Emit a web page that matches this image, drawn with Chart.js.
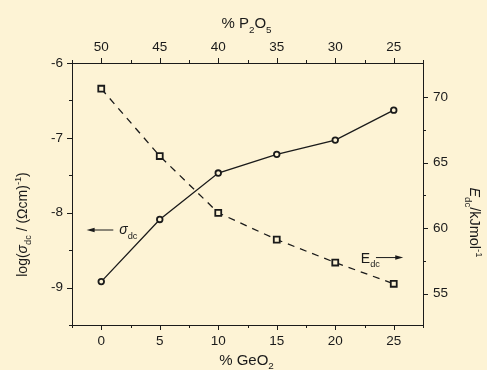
<!DOCTYPE html>
<html>
<head>
<meta charset="utf-8">
<script src="https://cdn.jsdelivr.net/npm/chart.js@4/dist/chart.umd.min.js"></script>
<style>
  html, body { margin: 0; padding: 0; background: #fdf3d5; }
  #wrap { width: 487px; height: 370px; }
</style>
</head>
<body>
<div id="wrap"><canvas id="c" width="487" height="370"></canvas></div>
<script>
// GeO2 content (mol %) of the glasses; P2O5 content is 50 - GeO2
const geo2 = [0, 5, 10, 15, 20, 25];
// dc conductivity, log(sigma_dc / (Ohm cm)^-1)
const logSigma = [-8.92, -8.09, -7.47, -7.22, -7.03, -6.63];
// activation energy E_dc, kJ/mol
const eDc = [70.63, 65.5, 61.17, 59.13, 57.38, 55.76];

const BG = '#fdf3d5';
const INK = '#1a1a1a';
const FONT = "'Liberation Sans', Arial, sans-serif";

const near = (v, step) => Math.abs(v / step - Math.round(v / step)) < 1e-6;

// Draws a run of text pieces (normal / italic / sub / sup) starting or centred at x
function rich(ctx, parts, x, y, size, align) {
  const fontFor = p => {
    const small = p.f === 'sub' || p.f === 'sup';
    const s = small ? size * 0.66 : size;
    return (p.f === 'i' ? 'italic ' : '') + s + 'px ' + FONT;
  };
  let total = 0;
  const widths = parts.map(p => { ctx.font = fontFor(p); const w = ctx.measureText(p.t).width; total += w; return w; });
  let cx = align === 'center' ? x - total / 2 : x;
  ctx.textAlign = 'left';
  ctx.textBaseline = 'alphabetic';
  parts.forEach((p, i) => {
    ctx.font = fontFor(p);
    let dy = 0;
    if (p.f === 'sub') dy = size * 0.33;
    if (p.f === 'sup') dy = -size * 0.42;
    ctx.fillText(p.t, cx, y + dy);
    cx += widths[i];
  });
}

function arrow(ctx, x1, y, x2) {
  const dir = Math.sign(x2 - x1);
  ctx.beginPath();
  ctx.moveTo(x1, y);
  ctx.lineTo(x2 - dir * 6, y);
  ctx.stroke();
  ctx.beginPath();
  ctx.moveTo(x2, y);
  ctx.lineTo(x2 - dir * 8, y - 2.2);
  ctx.lineTo(x2 - dir * 8, y + 2.2);
  ctx.closePath();
  ctx.fill();
}

const decorations = {
  id: 'decorations',
  beforeDraw(chart) {
    const ctx = chart.ctx;
    ctx.save();
    ctx.fillStyle = BG;
    ctx.fillRect(0, 0, chart.width, chart.height);
    ctx.restore();
  },
  afterDraw(chart) {
    const ctx = chart.ctx;
    const a = chart.chartArea;
    const s = chart.scales;
    ctx.save();
    ctx.strokeStyle = INK;
    ctx.fillStyle = INK;
    ctx.lineWidth = 1;

    // outward tick marks, long on labelled values, short in between
    const tick = (scale, step, majorStep, side) => {
      scale.ticks.forEach(t => {
        const v = t.value;
        if (!near(v, step)) return;
        const len = near(v, majorStep) ? 5 : 3;
        ctx.beginPath();
        if (side === 'bottom' || side === 'top') {
          const px = Math.round(scale.getPixelForValue(v)) + 0.5;
          const y0 = side === 'bottom' ? a.bottom : a.top;
          ctx.moveTo(px, y0);
          ctx.lineTo(px, side === 'bottom' ? y0 + len : y0 - len);
        } else {
          const py = Math.round(scale.getPixelForValue(v)) + 0.5;
          const x0 = side === 'left' ? a.left : a.right;
          ctx.moveTo(x0, py);
          ctx.lineTo(side === 'left' ? x0 - len : x0 + len, py);
        }
        ctx.stroke();
      });
    };
    tick(s.x, 2.5, 5, 'bottom');
    tick(s.x2, 2.5, 5, 'top');
    tick(s.y, 0.5, 1, 'left');
    tick(s.y2, 2.5, 5, 'right');

    // axis titles
    const cxp = (a.left + a.right) / 2 - 1;
    rich(ctx, [{t: '% GeO'}, {t: '2', f: 'sub'}], cxp, 364.5, 15, 'center');
    rich(ctx, [{t: '% P'}, {t: '2', f: 'sub'}, {t: 'O'}, {t: '5', f: 'sub'}], cxp, 28, 15, 'center');

    ctx.save();
    ctx.translate(26.5, 224.5);
    ctx.rotate(-Math.PI / 2);
    rich(ctx, [{t: 'log('}, {t: 'σ', f: 'i'}, {t: 'dc', f: 'sub'}, {t: ' / (Ωcm)'}, {t: '-1', f: 'sup'}, {t: ')'}], 0, 0, 14, 'center');
    ctx.restore();

    ctx.save();
    ctx.translate(469.5, 222.5);
    ctx.rotate(Math.PI / 2);
    rich(ctx, [{t: 'E', f: 'i'}, {t: 'dc', f: 'sub'}, {t: '/kJmol'}, {t: '-1', f: 'sup'}], 0, 0, 14.5, 'center');
    ctx.restore();

    // series markers in the plot: sigma_dc points to the left axis, E_dc to the right axis
    const ys = s.y.getPixelForValue(-8.231);
    arrow(ctx, s.x.getPixelForValue(1.03), ys, s.x.getPixelForValue(-1.25));
    rich(ctx, [{t: 'σ', f: 'i'}, {t: 'dc', f: 'sub'}], s.x.getPixelForValue(1.54), ys + 4, 14, 'left');

    const ye = s.y2.getPixelForValue(57.76);
    rich(ctx, [{t: 'E'}, {t: 'dc', f: 'sub'}], s.x.getPixelForValue(22.19), ye + 5, 14, 'left');
    arrow(ctx, s.x.getPixelForValue(23.48), ye, s.x.getPixelForValue(25.81));

    ctx.restore();
  }
};

const tickFont = { family: FONT, size: 13.5 };
const noGrid = { display: false, drawTicks: false };
const frame = { display: true, color: INK, width: 1 };

new Chart(document.getElementById('c'), {
  type: 'line',
  data: {
    datasets: [
      {
        label: 'σdc',
        data: geo2.map((x, i) => ({ x, y: logSigma[i] })),
        xAxisID: 'x',
        yAxisID: 'y',
        borderColor: INK,
        borderWidth: 1.3,
        pointStyle: 'circle',
        pointRadius: 2.8,
        pointBorderWidth: 1.8,
        pointBorderColor: INK,
        pointBackgroundColor: BG,
        tension: 0
      },
      {
        label: 'Edc',
        data: geo2.map((x, i) => ({ x, y: eDc[i] })),
        xAxisID: 'x',
        yAxisID: 'y2',
        borderColor: INK,
        borderWidth: 1.3,
        borderDash: [7, 6],
        pointStyle: 'rect',
        pointRadius: 4.2,
        pointBorderWidth: 1.8,
        pointBorderColor: INK,
        pointBackgroundColor: BG,
        tension: 0
      }
    ]
  },
  options: {
    responsive: false,
    animation: false,
    devicePixelRatio: 1,
    layout: { padding: 0 },
    plugins: { legend: { display: false }, tooltip: { enabled: false } },
    scales: {
      x: {
        type: 'linear', position: 'bottom', min: -2.5, max: 27.5,
        grid: noGrid, border: frame,
        ticks: { stepSize: 2.5, autoSkip: false, maxRotation: 0, padding: 8, color: INK, font: tickFont,
                 callback: v => near(v, 5) ? String(v) : '' },
        afterFit: sc => { sc.height = 45; }
      },
      x2: {
        type: 'linear', position: 'top', min: -2.5, max: 27.5,
        grid: noGrid, border: frame,
        ticks: { stepSize: 2.5, autoSkip: false, maxRotation: 0, padding: 8, color: INK, font: tickFont,
                 callback: v => near(v, 5) ? String(50 - v) : '' },
        afterFit: sc => { sc.height = 63; }
      },
      y: {
        type: 'linear', position: 'left', min: -9.5, max: -6,
        grid: noGrid, border: frame,
        ticks: { stepSize: 0.5, autoSkip: false, padding: 9, color: INK, font: tickFont,
                 callback: v => near(v, 1) ? String(v) : '' },
        afterFit: sc => { sc.width = 72; }
      },
      y2: {
        type: 'linear', position: 'right', min: 52.62, max: 72.59,
        grid: noGrid, border: frame,
        ticks: { stepSize: 2.5, autoSkip: false, padding: 10, color: INK, font: tickFont,
                 callback: v => near(v, 5) ? String(Math.round(v)) : '' },
        afterFit: sc => { sc.width = 64; }
      }
    }
  },
  plugins: [decorations]
});
</script>
</body>
</html>
